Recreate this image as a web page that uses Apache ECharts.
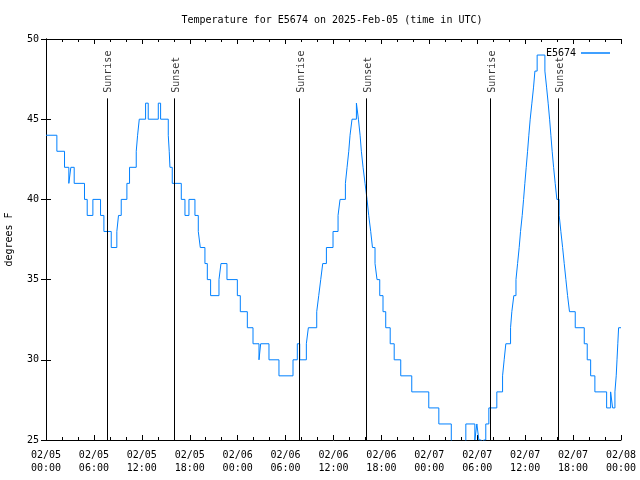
<!DOCTYPE html>
<html>
<head>
<meta charset="utf-8">
<script src="https://cdn.jsdelivr.net/npm/echarts@6/dist/echarts.min.js"></script>
<style>html,body{margin:0;padding:0;background:#fff}#c{width:640px;height:480px}</style>
</head>
<body>
<div id="c"></div>
<script>
// hours since 2025-02-05 00:00 UTC at which the reading changes
const timeHours = [0,1.36,2.32,2.86,3.11,3.53,4.82,5.16,5.87,6.83,7.25,8.17,8.87,9.08,9.42,10.13,10.46,11.30,11.47,11.68,12.47,12.80,14.06,14.35,15.31,15.43,15.52,15.81,16.94,17.40,17.90,18.65,19.07,19.32,19.90,20.20,20.61,21.66,21.91,22.66,23.96,24.33,25.21,25.92,26.67,26.88,27.92,29.17,30.93,31.47,31.77,32.60,32.85,33.90,34.15,34.40,34.65,35.11,35.94,36.57,36.82,37.49,37.70,37.91,38.07,38.32,38.87,39.12,39.33,39.49,39.70,39.95,40.20,40.41,40.66,40.88,41.20,41.45,41.79,42.20,42.54,43.10,43.60,44.42,45.80,47.93,49.19,50.75,52.57,53.70,53.95,54.20,54.50,54.80,55.07,55.45,56.45,57.17,57.37,57.58,58.17,58.33,58.58,58.85,59.05,59.25,59.42,59.63,59.80,59.96,60.13,60.30,60.46,60.63,60.84,61.05,61.22,61.50,62.47,62.68,62.88,63.06,63.22,63.38,63.56,63.76,63.97,64.26,64.47,64.69,64.89,65.10,65.31,65.55,66.27,67.40,67.77,68.20,68.73,70.20,70.70,70.95,71.24,71.40,71.50,71.60,71.70,72.00];
const tempF = [44,43,42,41,42,41,40,39,40,39,38,37,38,39,40,41,42,43,44,45,46,45,46,45,44,43,42,41,40,39,40,39,38,37,36,35,34,35,36,35,34,33,32,31,30,31,30,29,30,31,30,31,32,33,34,35,36,37,38,39,40,41,42,43,44,45,46,45,44,43,42,41,40,39,38,37,36,35,34,33,32,31,30,29,28,27,26,24,26,25,26,25,24,25,26,27,28,29,30,31,32,33,34,35,36,37,38,39,40,41,42,43,44,45,46,47,48,49,48,47,46,45,44,43,42,41,40,39,38,37,36,35,34,33,32,31,30,29,28,27,28,27,28,29,30,31,32,32];
const sunHours = [7.62, 16.02, 31.70, 40.08, 55.61, 64.12];
const sunNames = ['Sunrise','Sunset','Sunrise','Sunset','Sunrise','Sunset'];
const xTickLabels = ['02/05\n00:00','02/05\n06:00','02/05\n12:00','02/05\n18:00','02/06\n00:00','02/06\n06:00','02/06\n12:00','02/06\n18:00','02/07\n00:00','02/07\n06:00','02/07\n12:00','02/07\n18:00','02/08\n00:00'];
const yTicks = [25,30,35,40,45,50];
const seriesName = 'E5674';

const FONT = 'DejaVu Sans Mono';
const lineTop = 46.3, labelLevel = 46.65;

const tempData = timeHours.map((h, i) => [h, tempF[i]]);
const sunLines = sunHours.map(h => [{coord:[h, 25]}, {coord:[h, lineTop]}]);
const sunLabels = sunHours.map((h, i) => [h, labelLevel, sunNames[i]]);

const axisCommonX = {
  type:'value', min:0, max:72, interval:6,
  axisLine:{show:true, lineStyle:{color:'#000', width:1}},
  axisTick:{show:true, inside:true, length:5, lineStyle:{color:'#000'}},
  minorTick:{show:true, splitNumber:3, length:3, lineStyle:{color:'#000'}},
  splitLine:{show:false}
};
const axisCommonY = {
  type:'value', min:25, max:50, interval:5,
  axisLine:{show:true, lineStyle:{color:'#000', width:1}},
  axisTick:{show:true, inside:true, length:5, lineStyle:{color:'#000'}},
  splitLine:{show:false}
};

const chart = echarts.init(document.getElementById('c'), null, {renderer:'canvas'});
chart.setOption({
  animation:false,
  backgroundColor:'#fff',
  title:{text:'Temperature for E5674 on 2025-Feb-05 (time in UTC)', left:327, top:10, textAlign:'center',
    textStyle:{fontFamily:FONT, fontSize:10, fontWeight:'normal', color:'#000'}},
  legend:{data:[seriesName], right:25, top:43, align:'right', icon:'rect', itemWidth:29, itemHeight:1.5, itemGap:5,
    textStyle:{fontFamily:FONT, fontSize:10, color:'#000'}},
  grid:{left:46, right:19, top:39, bottom:40, containLabel:false, outerBoundsMode:'none'},
  xAxis:[
    Object.assign({}, axisCommonX, {position:'bottom',
      axisLabel:{show:true, showMinLabel:true, showMaxLabel:true, margin:9, fontFamily:FONT, fontSize:10, color:'#000', lineHeight:13,
        formatter:v => xTickLabels[Math.round(v/6)]}}),
    Object.assign({}, axisCommonX, {position:'top', axisLabel:{show:false}})
  ],
  yAxis:[
    Object.assign({}, axisCommonY, {position:'left', name:'degrees F', nameLocation:'middle', nameGap:32, nameRotate:90,
      nameTextStyle:{fontFamily:FONT, fontSize:10, color:'#000'},
      axisLabel:{show:true, margin:7, fontFamily:FONT, fontSize:10, color:'#000',
        formatter:v => yTicks.includes(v) ? String(v) : ''}}),
    Object.assign({}, axisCommonY, {position:'right', axisLabel:{show:false}})
  ],
  series:[
    {
      name:seriesName, type:'line', step:'end', data:tempData, xAxisIndex:0, yAxisIndex:0,
      symbol:'none', clip:true, color:'#0080ff',
      lineStyle:{color:'#0080ff', width:1},
      markLine:{silent:true, symbol:'none', animation:false,
        lineStyle:{color:'#000', width:1, type:'solid'}, label:{show:false},
        data:sunLines}
    },
    {
      name:'sun', type:'scatter', data:sunLabels, symbolSize:0, silent:true,
      label:{show:true, position:'inside', rotate:90, align:'left', verticalAlign:'middle', offset:[0, 2],
        fontFamily:FONT, fontSize:10, color:'#000', formatter:p => p.data[2]}
    }
  ]
});
</script>
</body>
</html>
